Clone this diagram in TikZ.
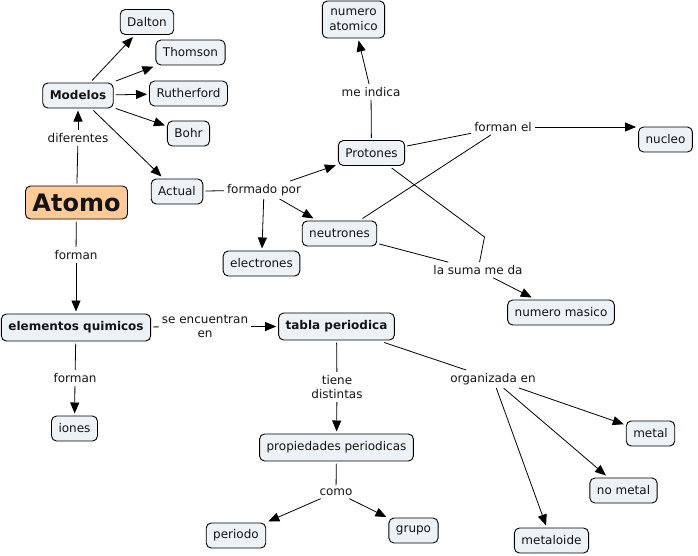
\documentclass[tikz,border=0pt]{standalone}
\usepackage{fontspec}
\setmainfont{DejaVu Sans}
\usetikzlibrary{arrows.meta}
\definecolor{cfill}{RGB}{236,242,245}
\definecolor{ofill}{RGB}{254,202,152}
\definecolor{txt}{RGB}{20,20,20}
\begin{document}
\begin{tikzpicture}[x=1pt,y=-1pt,
  every node/.style={font=\fontsize{12}{14.5}\selectfont, text=txt},
  concept/.style={draw=black, rounded corners=5pt, fill=cfill, inner xsep=7pt, inner ysep=3pt,
    minimum height=25pt, line width=0.9pt, outer sep=2.5pt, align=center},
  bold/.style={font=\fontsize{12}{14.5}\selectfont\bfseries},
  lbl/.style={inner sep=3pt, align=center},
  link/.style={line width=0.8pt, black},
  arr/.style={link, -{Triangle[length=11pt,width=9pt]}}]
\useasboundingbox (0,0) rectangle (698,555);
% concepts
\node[concept] (dalton) at (147,22) {Dalton};
\node[concept] (thomson) at (190.5,52.5) {Thomson};
\node[concept] (ruth) at (188.5,93.5) {Rutherford};
\node[concept] (bohr) at (188.5,133.5) {Bohr};
\node[concept, bold] (modelos) at (78,95.5) {Modelos};
\node[concept, fill=ofill, font=\fontsize{24}{28}\selectfont\bfseries, minimum height=33pt, inner xsep=7pt] (atomo) at (76.5,202.5) {Atomo};
\node[concept] (actual) at (177,191.5) {Actual};
\node[concept, minimum height=37pt, font=\fontsize{12}{15}\selectfont] (natom) at (353.5,19.5) {numero\\atomico};
\node[concept] (protones) at (371.5,153) {Protones};
\node[concept] (nucleo) at (665.5,139.5) {nucleo};
\node[concept] (neutrones) at (339.5,233.5) {neutrones};
\node[concept] (electrones) at (261.5,263.5) {electrones};
\node[concept] (nmasico) at (561,312.5) {numero masico};
\node[concept, bold, minimum height=27pt] (elem) at (76,327.5) {elementos quimicos};
\node[concept, bold, minimum height=27pt] (tabla) at (336.5,326.5) {tabla periodica};
\node[concept] (iones) at (74.5,428.5) {iones};
\node[concept, minimum height=27pt] (prop) at (336.5,447.5) {propiedades periodicas};
\node[concept] (periodo) at (236,535.5) {periodo};
\node[concept] (grupo) at (413.5,530.5) {grupo};
\node[concept] (metal) at (650.5,433.5) {metal};
\node[concept] (nometal) at (623.5,490.5) {no metal};
\node[concept] (metaloide) at (551.5,540.5) {metaloide};
% linking phrases
\node[lbl] (ldif) at (78,138) {diferentes};
\node[lbl] (lmeind) at (371,92) {me indica};
\node[lbl] (lform) at (264,190) {formado por};
\node[lbl] (lformel) at (503,127) {forman el};
\node[lbl] (lsuma) at (478,270) {la suma me da};
\node[lbl] (lforman1) at (76,255) {forman};
\node[lbl] (lsenc) at (205,326.5) {se encuentran\\en};
\node[lbl] (lforman2) at (75,378) {forman};
\node[lbl] (ltiene) at (337,387) {tiene\\distintas};
\node[lbl] (lorg) at (493,379) {organizada en};
\node[lbl] (lcomo) at (336,492) {como};
\coordinate (bend) at (484.5,237);
% connectors
\draw[link] (atomo) -- (ldif);
\draw[arr] (ldif) -- (modelos);
\draw[arr] (modelos) -- (dalton);
\draw[arr] (modelos) -- (thomson);
\draw[arr] (modelos) -- (ruth);
\draw[arr] (modelos) -- (bohr);
\draw[arr] (modelos) -- (actual);
\draw[link] (actual) -- (lform);
\draw[arr] (lform) -- (protones);
\draw[arr] (lform) -- (neutrones);
\draw[arr] (lform) -- (electrones);
\draw[link] (protones) -- (lmeind);
\draw[arr] (lmeind) -- (natom);
\draw[link] (protones) -- (lformel);
\draw[link] (neutrones) -- (lformel);
\draw[arr] (lformel.east) -- (lformel.east -| nucleo.west);
\draw[link] (neutrones) -- (lsuma);
\draw[link] (protones) -- (bend) -- (lsuma);
\draw[arr] (lsuma) -- (nmasico);
\draw[link] (atomo) -- (lforman1);
\draw[arr] (lforman1) -- (elem);
\draw[link] (elem) -- (lsenc);
\draw[arr] (lsenc) -- (tabla);
\draw[link] (elem) -- (lforman2);
\draw[arr] (lforman2) -- (iones);
\draw[link] (tabla) -- (ltiene);
\draw[arr] (ltiene) -- (prop);
\draw[link] (tabla) -- (lorg);
\draw[arr] (lorg) -- (metal);
\draw[arr] (lorg) -- (nometal);
\draw[arr] (lorg) -- (metaloide);
\draw[link] (prop) -- (lcomo);
\draw[arr] (lcomo) -- (periodo);
\draw[arr] (lcomo) -- (grupo);
\end{tikzpicture}
\end{document}
